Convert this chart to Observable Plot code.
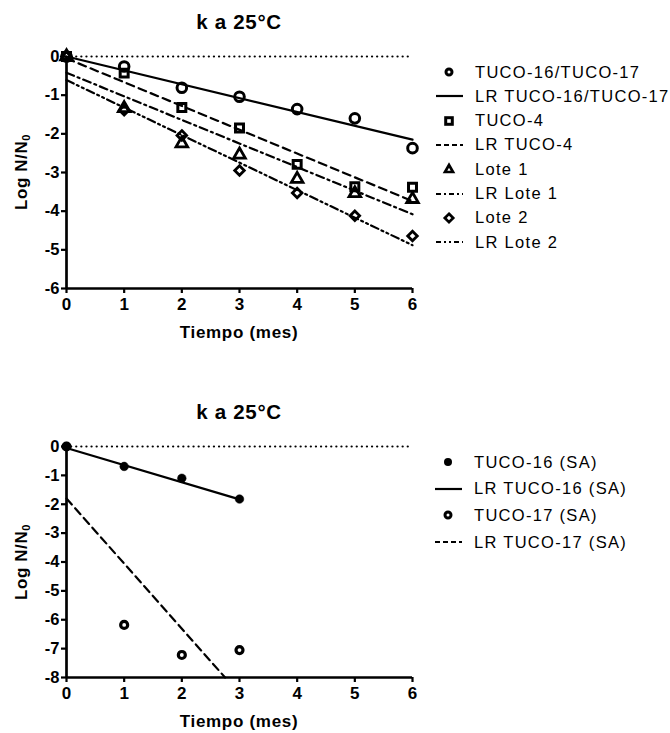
<!DOCTYPE html>
<html><head><meta charset="utf-8">
<script src="https://cdn.jsdelivr.net/npm/d3@7"></script>
<script src="https://cdn.jsdelivr.net/npm/@observablehq/plot@0.6"></script>
<style>
body{margin:0;background:#fff;}
#wrap{position:relative;width:670px;height:733px;font-family:"Liberation Sans",Arial,sans-serif;color:#000;overflow:hidden;}
.abs{position:absolute;}
.title{font-weight:bold;font-size:20.5px;line-height:24px;text-align:center;letter-spacing:0.7px;}
.xlab{font-weight:bold;font-size:17px;line-height:22px;text-align:center;letter-spacing:0.7px;}
.ylab{font-weight:bold;font-size:17px;white-space:nowrap;transform:translate(-50%,-50%) rotate(-90deg);letter-spacing:0.6px;}
.ylab sub{font-size:11px;vertical-align:-3px;}
.leg{font-size:16.5px;white-space:nowrap;letter-spacing:1.3px;display:flex;align-items:center;height:20px;}
.leg svg{margin-right:10px;}
</style></head><body><div id="wrap"></div>
<script>
// ---------- Data: top chart ----------
const months = [0, 1, 2, 3, 4, 5, 6];
const tuco1617 = [0, -0.26, -0.81, -1.04, -1.36, -1.60, -2.37];
const tuco4    = [0, -0.43, -1.32, -1.85, -2.79, -3.37, -3.38];
const lote1    = [0, -1.34, -2.25, -2.54, -3.17, -3.54, -3.69];
const lote2    = [0, -1.39, -2.04, -2.95, -3.53, -4.12, -4.64];
const lrX        = [0, 6];
const lrTuco1617 = [0, -2.15];
const lrTuco4    = [-0.05, -3.74];
const lrLote1    = [-0.42, -4.08];
const lrLote2    = [-0.61, -4.88];
const topXTicks = [0, 1, 2, 3, 4, 5, 6];
const topYTicks = [0, -1, -2, -3, -4, -5, -6];
const topLegendLabels = ["TUCO-16/TUCO-17", "LR TUCO-16/TUCO-17", "TUCO-4", "LR TUCO-4", "Lote 1", "LR Lote 1", "Lote 2", "LR Lote 2"];

// ---------- Data: bottom chart ----------
const monthsSA = [0, 1, 2, 3];
const tuco16SA = [0, -0.69, -1.10, -1.82];
const tuco17SA = [0, -6.18, -7.22, -7.05];
const lrTuco16SAx = [0, 3];
const lrTuco16SA  = [-0.05, -1.83];
const lrTuco17SAx = [0, 2.75];
const lrTuco17SA  = [-1.8, -8];
const botXTicks = [0, 1, 2, 3, 4, 5, 6];
const botYTicks = [0, -1, -2, -3, -4, -5, -6, -7, -8];
const botLegendLabels = ["TUCO-16 (SA)", "LR TUCO-16 (SA)", "TUCO-17 (SA)", "LR TUCO-17 (SA)"];

const wrap = document.getElementById("wrap");
const zip = (xs, ys) => xs.map((x, i) => ({x, y: ys[i]}));

const DASH = "8,5";
const DASHDOT = "8,4,2,4";
const DASHDOTDOT = "8,3.5,2,3.5,2,3.5";
const FONT = "'Liberation Sans', Arial, sans-serif";

function baseMarks(xTicks, yTicks, ymin) {
  return [
    Plot.ruleY([0], {x1: 0, x2: 6, stroke: "black", strokeWidth: 2.2, strokeDasharray: "0.1,5", strokeLinecap: "round"}),
    Plot.axisY({ticks: yTicks, tickSize: 5, tickPadding: 2, strokeWidth: 2.2, tickFormat: d => String(d), label: null,
                fontSize: 16.5, fontWeight: "bold", fontFamily: FONT}),
    Plot.axisX({ticks: xTicks, tickSize: 5, tickPadding: 4, strokeWidth: 2.2, tickFormat: d => String(d), label: null,
                fontSize: 17, fontWeight: "bold", fontFamily: FONT}),
    Plot.ruleX([0], {y1: ymin, y2: 0, stroke: "black", strokeWidth: 2.7}),
    Plot.ruleY([ymin], {x1: 0, x2: 6, stroke: "black", strokeWidth: 2.7})
  ];
}

const plotStyle = {fontFamily: FONT, fontSize: "16px", fontWeight: "bold", background: "transparent", overflow: "visible", color: "black"};

// ---------- Top chart ----------
const topPlot = Plot.plot({
  width: 670, height: 345,
  marginLeft: 66, marginRight: 258, marginTop: 56, marginBottom: 57,
  x: {domain: [0, 6]},
  y: {domain: [-6, 0]},
  style: plotStyle,
  marks: [
    ...baseMarks(topXTicks, topYTicks, -6),
    Plot.line(zip(lrX, lrTuco1617), {x: "x", y: "y", stroke: "black", strokeWidth: 2.2}),
    Plot.line(zip(lrX, lrTuco4), {x: "x", y: "y", stroke: "black", strokeWidth: 2.2, strokeDasharray: DASH}),
    Plot.line(zip(lrX, lrLote1), {x: "x", y: "y", stroke: "black", strokeWidth: 2.2, strokeDasharray: DASHDOT}),
    Plot.line(zip(lrX, lrLote2), {x: "x", y: "y", stroke: "black", strokeWidth: 2.2, strokeDasharray: DASHDOTDOT}),
    Plot.dot(zip(months, tuco1617), {x: "x", y: "y", symbol: "circle", r: 4.8, stroke: "black", strokeWidth: 3, fill: "none"}),
    Plot.dot(zip(months, tuco4), {x: "x", y: "y", symbol: "square", r: 4.5, stroke: "black", strokeWidth: 3, fill: "none"}),
    Plot.dot(zip(months, lote1), {x: "x", y: "y", symbol: "triangle", r: 4.3, stroke: "black", strokeWidth: 2.8, fill: "none"}),
    Plot.dot(zip(months, lote2), {x: "x", y: "y", symbol: "diamond2", r: 4.3, stroke: "black", strokeWidth: 2.8, fill: "none"})
  ]
});
topPlot.style.position = "absolute";
topPlot.style.left = "0px";
topPlot.style.top = "0px";
wrap.appendChild(topPlot);

// ---------- Bottom chart ----------
const botPlot = Plot.plot({
  width: 670, height: 343,
  marginLeft: 66, marginRight: 258, marginTop: 56, marginBottom: 56,
  x: {domain: [0, 6]},
  y: {domain: [-8, 0]},
  style: plotStyle,
  marks: [
    ...baseMarks(botXTicks, botYTicks, -8),
    Plot.line(zip(lrTuco16SAx, lrTuco16SA), {x: "x", y: "y", stroke: "black", strokeWidth: 2.2}),
    Plot.line(zip(lrTuco17SAx, lrTuco17SA), {x: "x", y: "y", stroke: "black", strokeWidth: 2.2, strokeDasharray: DASH}),
    Plot.dot(zip(monthsSA, tuco16SA), {x: "x", y: "y", symbol: "circle", r: 4.3, fill: "black", stroke: "black", strokeWidth: 0.5}),
    Plot.dot(zip(monthsSA, tuco17SA), {x: "x", y: "y", symbol: "circle", r: 3.5, stroke: "black", strokeWidth: 3.2, fill: "none"})
  ]
});
botPlot.style.position = "absolute";
botPlot.style.left = "0px";
botPlot.style.top = "390px";
wrap.appendChild(botPlot);

// ---------- Text (titles, axis labels) ----------
function addDiv(cls, html, css) {
  const d = document.createElement("div");
  d.className = "abs " + cls;
  d.innerHTML = html;
  Object.assign(d.style, css);
  wrap.appendChild(d);
  return d;
}
addDiv("title", "k a 25°C", {left: "66px", width: "346px", top: "10px"});
addDiv("title", "k a 25°C", {left: "66px", width: "346px", top: "400px"});
addDiv("xlab", "Tiempo (mes)", {left: "66px", width: "346px", top: "322px"});
addDiv("xlab", "Tiempo (mes)", {left: "66px", width: "346px", top: "711px"});
addDiv("ylab", "Log N/N<sub>0</sub>", {left: "22px", top: "172px"});
addDiv("ylab", "Log N/N<sub>0</sub>", {left: "22px", top: "562px"});

// ---------- Legends ----------
function swatch(item) {
  const w = 32, h = 20, cx = 16, cy = 10;
  let inner = "";
  if (item.type === "line") {
    inner = `<line x1="3" x2="30" y1="${cy}" y2="${cy}" stroke="black" stroke-width="2.2" ${item.dash ? `stroke-dasharray="${item.dash}"` : ""}/>`;
  } else if (item.sym === "circle") {
    inner = `<circle cx="${cx}" cy="${cy}" r="3" fill="none" stroke="black" stroke-width="3"/>`;
  } else if (item.sym === "dotfill") {
    inner = `<circle cx="${cx}" cy="${cy}" r="4" fill="black"/>`;
  } else if (item.sym === "square") {
    inner = `<rect x="${cx-3.3}" y="${cy-3.3}" width="6.6" height="6.6" fill="none" stroke="black" stroke-width="3"/>`;
  } else if (item.sym === "triangle") {
    inner = `<path d="M${cx},${cy-4} L${cx+4},${cy+3} L${cx-4},${cy+3} Z" fill="none" stroke="black" stroke-width="2.7" stroke-linejoin="miter"/>`;
  } else if (item.sym === "diamond") {
    inner = `<path d="M${cx},${cy-4.2} L${cx+4.2},${cy} L${cx},${cy+4.2} L${cx-4.2},${cy} Z" fill="none" stroke="black" stroke-width="2.7"/>`;
  }
  return `<svg width="${w}" height="${h}">${inner}</svg>`;
}
function legend(labels, styles, left, top, step) {
  labels.forEach((lab, i) => {
    addDiv("leg", swatch(styles[i]) + `<span>${lab}</span>`, {left: left + "px", top: (top + i * step) + "px"});
  });
}
legend(topLegendLabels, [
  {type: "dot", sym: "circle"}, {type: "line"},
  {type: "dot", sym: "square"}, {type: "line", dash: "5,3"},
  {type: "dot", sym: "triangle"}, {type: "line", dash: "5,3,2,3"},
  {type: "dot", sym: "diamond"}, {type: "line", dash: "5,3,2,3,2,3"}
], 433, 62, 24.3);
legend(botLegendLabels, [
  {type: "dot", sym: "dotfill"}, {type: "line"},
  {type: "dot", sym: "circle"}, {type: "line", dash: "5,3"}
], 432, 452, 26.7);
</script>
</body></html>
